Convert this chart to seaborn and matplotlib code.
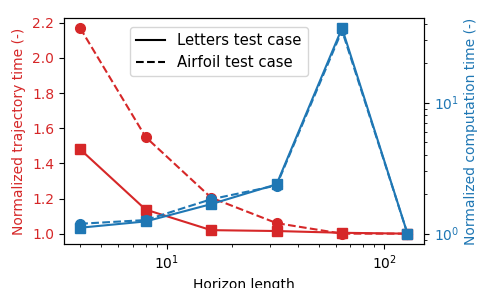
import matplotlib
matplotlib.use("Agg")
import matplotlib.pyplot as plt
import seaborn as sns
import pandas as pd
from matplotlib.lines import Line2D

horizon = [4, 8, 16, 32, 64, 128]
traj_letters = [1.48, 1.137, 1.02, 1.015, 1.005, 1.0]
traj_airfoil = [2.17, 1.55, 1.205, 1.06, 1.0, 1.0]
comp_letters = [1.11, 1.24, 1.68, 2.38, 37.0, 1.0]
comp_airfoil = [1.19, 1.27, 1.83, 2.33, 35.5, 1.0]

red = "#d62728"
blue = "#1f77b4"

fig = plt.figure(figsize=(4.8, 2.88), dpi=100)
ax = fig.add_axes([0.133, 0.153, 0.75, 0.785])
ax2 = ax.twinx()

mk = dict(markersize=7, markeredgewidth=1)
sns.lineplot(x=horizon, y=traj_letters, ax=ax, color=red, marker="s",
             markeredgecolor=red, linestyle="-", **mk)
sns.lineplot(x=horizon, y=traj_airfoil, ax=ax, color=red, marker="o",
             markeredgecolor=red, linestyle="--", **mk)
sns.lineplot(x=horizon, y=comp_airfoil, ax=ax2, color=blue, marker="o",
             markeredgecolor=blue, linestyle="--", **mk)
sns.lineplot(x=horizon, y=comp_letters, ax=ax2, color=blue, marker="s",
             markeredgecolor=blue, linestyle="-", **mk)

ax.set_xscale("log")
ax2.set_yscale("log")
ax.set_xlabel("Horizon length")
ax.set_ylabel("Normalized trajectory time (-)", color=red)
ax2.set_ylabel("Normalized computation time (-)", color=blue)
ax.tick_params(axis="y", which="both", labelcolor=red, color="black")
ax2.tick_params(axis="y", which="both", labelcolor=blue, color="black")

handles = [Line2D([], [], color="black", linestyle="-"),
           Line2D([], [], color="black", linestyle="--")]
ax2.legend(handles, ["Letters test case", "Airfoil test case"],
           loc="upper left", bbox_to_anchor=(0.183, 0.96), borderaxespad=0,
           fontsize=10.7)

fig.savefig("out.png", dpi=100)
